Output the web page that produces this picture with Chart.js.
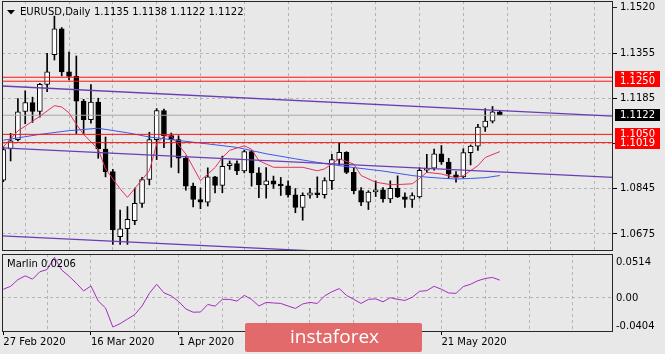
<!DOCTYPE html>
<html>
<head>
<meta charset="utf-8">
<script src="https://cdn.jsdelivr.net/npm/chart.js@4.4.1/dist/chart.umd.min.js"></script>
<style>
  html, body { margin: 0; padding: 0; background: #e8e8e8; }
  #wrap { position: relative; width: 665px; height: 354px; overflow: hidden; }
  #priceBox { position: absolute; left: 0; top: 0; width: 665px; height: 253px; }
  #oscBox { position: absolute; left: 0; top: 253px; width: 665px; height: 101px; }
</style>
</head>
<body>
<div id="wrap">
  <div id="priceBox"><canvas id="priceChart"></canvas></div>
  <div id="oscBox"><canvas id="oscChart"></canvas></div>
</div>
<script>
// bars (daily)
const dates = ['2020.02.27','2020.02.28','2020.03.02','2020.03.03','2020.03.04','2020.03.05','2020.03.06',
  '2020.03.09','2020.03.10','2020.03.11','2020.03.12','2020.03.13','2020.03.16','2020.03.17','2020.03.18',
  '2020.03.19','2020.03.20','2020.03.23','2020.03.24','2020.03.25','2020.03.26','2020.03.27','2020.03.30',
  '2020.03.31','2020.04.01','2020.04.02','2020.04.03','2020.04.06','2020.04.07','2020.04.08','2020.04.09',
  '2020.04.10','2020.04.13','2020.04.14','2020.04.15','2020.04.16','2020.04.17','2020.04.20','2020.04.21',
  '2020.04.22','2020.04.23','2020.04.24','2020.04.27','2020.04.28','2020.04.29','2020.04.30','2020.05.01',
  '2020.05.04','2020.05.05','2020.05.06','2020.05.07','2020.05.08','2020.05.11','2020.05.12','2020.05.13',
  '2020.05.14','2020.05.15','2020.05.18','2020.05.19','2020.05.20','2020.05.21','2020.05.22','2020.05.25',
  '2020.05.26','2020.05.27','2020.05.28','2020.05.29','2020.06.01','2020.06.02'];

const open = [1.0878,1.0995,1.1030,1.1136,1.1170,1.1136,1.1238,1.1350,1.1447,1.1285,1.1268,1.1175,1.1105,
  1.1172,1.0995,1.0910,1.0665,1.0695,1.0725,1.0790,1.0880,1.1030,1.1140,1.1045,1.1030,1.0960,1.0855,1.0805,
  1.0795,1.0890,1.0858,1.0932,1.0940,1.0912,1.0985,1.0905,1.0860,1.0875,1.0863,1.0856,1.0822,1.0775,1.0821,
  1.0830,1.0823,1.0876,1.0955,1.0982,1.0907,1.0838,1.0795,1.0833,1.0841,1.0807,1.0847,1.0815,1.0805,1.0815,
  1.0915,1.0923,1.0977,1.0946,1.0898,1.0890,1.0981,1.1006,1.1077,1.1100,1.1135];
const high = [1.1004,1.1054,1.1185,1.1214,1.1190,1.1242,1.1355,1.1495,1.1452,1.1360,1.1345,1.1182,1.1237,
  1.1186,1.1040,1.0918,1.0765,1.0778,1.0848,1.0888,1.1058,1.1147,1.1145,1.1055,1.1045,1.0968,1.0867,1.0848,
  1.0924,1.0892,1.0968,1.0950,1.0950,1.0990,1.0990,1.0925,1.0925,1.0893,1.0888,1.0875,1.0846,1.0830,1.0847,
  1.0890,1.0887,1.0975,1.1018,1.0985,1.0925,1.0850,1.0838,1.0875,1.0850,1.0875,1.0894,1.0830,1.0830,1.0925,
  1.0975,1.0995,1.1008,1.0960,1.0910,1.0996,1.1010,1.1088,1.1147,1.1155,1.1138];
const low = [1.0872,1.0950,1.1025,1.1090,1.1095,1.1115,1.1211,1.1330,1.1270,1.1255,1.1053,1.1053,1.1092,
  1.0960,1.0890,1.0636,1.0636,1.0636,1.0710,1.0775,1.0860,1.0955,1.1000,1.0926,1.0905,1.0840,1.0777,1.0770,
  1.0780,1.0830,1.0830,1.0918,1.0898,1.0905,1.0855,1.0812,1.0810,1.0847,1.0820,1.0814,1.0755,1.0727,1.0810,
  1.0812,1.0810,1.0843,1.0935,1.0902,1.0826,1.0782,1.0767,1.0816,1.0795,1.0793,1.0812,1.0775,1.0775,1.0810,
  1.0906,1.0915,1.0937,1.0885,1.0870,1.0886,1.0935,1.0990,1.1061,1.1093,1.1122];
const close = [1.0993,1.1026,1.1135,1.1170,1.1136,1.1238,1.1285,1.1447,1.1285,1.1268,1.1175,1.1105,1.1172,
  1.0995,1.0910,1.0690,1.0694,1.0730,1.0790,1.0880,1.1030,1.1140,1.1045,1.1030,1.0960,1.0855,1.0805,1.0795,
  1.0890,1.0858,1.0930,1.0940,1.0912,1.0985,1.0905,1.0860,1.0875,1.0863,1.0856,1.0822,1.0775,1.0821,1.0830,
  1.0823,1.0876,1.0955,1.0982,1.0907,1.0838,1.0795,1.0833,1.0841,1.0807,1.0847,1.0815,1.0805,1.0820,1.0915,
  1.0923,1.0977,1.0946,1.0900,1.0890,1.0981,1.1006,1.1077,1.1100,1.1135,1.1122];

// moving averages at these bars
const fastMaBar = [0,2,3,5,7,8,9,10,11,13,14,16,17,20,21,22,23,25,27,29,30,31,33,34,35,37,41,43,44,46,48,49,
  51,53,54,56,57,58,60,62,63,65,66,68];
const fastMa = [1.1003,1.1063,1.1081,1.1118,1.1158,1.1153,1.1131,1.1088,1.1050,1.0994,1.0920,1.0845,1.0813,
  1.0913,1.1013,1.1044,1.1044,1.0976,1.0876,1.0925,1.0963,1.0990,1.1007,1.0994,1.0951,1.0926,1.0926,1.0913,
  1.0920,1.0958,1.0938,1.0895,1.0870,1.0861,1.0861,1.0864,1.0884,1.0907,1.0901,1.0886,1.0895,1.0932,1.0963,1.0985];
const slowMaBar = [0,5,9,13,17,20,24,28,32,36,40,44,48,52,56,58,60,62,64,66,68];
const slowMa = [1.1028,1.1050,1.1064,1.1073,1.1056,1.1040,1.1027,1.1014,1.1001,1.0977,1.0958,1.0940,1.0925,
  1.0912,1.0895,1.0889,1.0885,1.0882,1.0884,1.0887,1.0895];

// channel lines: value at left edge and right edge of the window
const channelBar = [-0.18, 83.5];
const channelTop = [1.1232, 1.1119];
const channelMid = [1.0999, 1.0888];
const channelLow = [1.0668, 1.0557];

const levels = [1.1265, 1.1250, 1.1050, 1.1019];
const bidPrice = 1.1122;

const marlin = [0.0099,0.0134,0.0212,0.0257,0.0218,0.0305,0.0331,0.0474,0.0325,0.0253,0.0170,0.0079,0.0138,
  -0.0040,-0.0121,-0.0345,-0.0306,-0.0252,-0.0199,-0.0098,0.0051,0.0158,0.0057,0.0021,-0.0044,-0.0133,-0.0171,
  -0.0169,-0.0080,-0.0100,-0.0020,-0.0020,-0.0040,0.0027,-0.0020,-0.0098,-0.0056,-0.0062,-0.0068,-0.0098,-0.0127,
  -0.0074,-0.0056,-0.0068,0.0021,0.0069,0.0107,0.0027,-0.0020,-0.0068,-0.0020,-0.0014,-0.0048,0.0000,-0.0020,
  -0.0032,0.0004,0.0075,0.0083,0.0134,0.0099,0.0055,0.0051,0.0131,0.0158,0.0200,0.0226,0.0238,0.0206];

// axis ticks
const priceTicks = [1.0675, 1.0845, 1.1015, 1.1185, 1.1355];
const priceTopLabel = '1.1520';
const oscLabels = ['0.0514', '0.00', '-0.0404'];
const dateTickBars = [0, 12, 24, 36, 48, 60];
const months = ['Jan','Feb','Mar','Apr','May','Jun','Jul','Aug','Sep','Oct','Nov','Dec'];

const bg = '#e8e8e8';
const gridColor = '#b4b4b4';
const frameColor = '#262626';
const font = '"DejaVu Sans", sans-serif';
const xMin = -0.18, xMax = 83.5;
const gridBars = [0, 6, 12, 18, 24, 30, 36, 42, 48, 54, 60, 66, 72, 78];

Chart.defaults.font.family = font;
Chart.defaults.font.size = 10;
Chart.defaults.color = '#000';

function dateLabel(i) {
  var p = dates[i].split('.');
  return (+p[2]) + ' ' + months[+p[1] - 1] + ' ' + p[0];
}
function pts(xs, ys) {
  return xs.map(function (x, k) { return { x: x, y: ys[k] }; });
}
function hline(v) {
  return [{ x: channelBar[0], y: v }, { x: channelBar[1], y: v }];
}
function lineSet(data, color, order, width) {
  return { type: 'line', data: data, borderColor: color, borderWidth: width || 1, pointRadius: 0,
    tension: 0, fill: false, order: order };
}
function zeroPad(s) { s.paddingLeft = 0; s.paddingRight = 0; s.paddingTop = 0; s.paddingBottom = 0; }

// price pane
var wicks = dates.map(function (d, i) { return { x: i, y: [low[i], high[i]] }; });
var bodies = dates.map(function (d, i) { return { x: i, y: [open[i], close[i]] }; });
var bodyFill = dates.map(function (d, i) { return close[i] >= open[i] ? '#ffffff' : '#000000'; });

var priceSets = [
  lineSet(hline(bidPrice), '#a8a8a8', 9),
  lineSet(pts(channelBar, channelTop), '#6b3db3', 4, 1.3),
  lineSet(pts(channelBar, channelMid), '#6b3db3', 4, 1.3),
  lineSet(pts(channelBar, channelLow), '#6b3db3', 4, 1.3),
  lineSet(pts(slowMaBar, slowMa), '#3a58f0', 6),
  lineSet(pts(fastMaBar, fastMa), '#e2335a', 5),
  { type: 'bar', data: bodies, backgroundColor: bodyFill, borderColor: '#000', borderWidth: 1,
    borderSkipped: false, barThickness: 5, minBarLength: 1, grouped: false, order: 20 },
  { type: 'bar', data: wicks, backgroundColor: '#000', borderWidth: 0, barThickness: 1,
    grouped: false, order: 21 }
];
levels.forEach(function (v) { priceSets.push(lineSet(hline(v), '#ff1010', 1)); });

var priceDecor = {
  id: 'priceDecor',
  afterDraw: function (chart) {
    var ctx = chart.ctx, a = chart.chartArea, y = chart.scales.y;
    ctx.save();
    ctx.strokeStyle = frameColor;
    ctx.lineWidth = 1;
    ctx.strokeRect(a.left + 0.5, a.top + 0.5, a.right - a.left - 1, a.bottom - a.top - 1);

    ctx.fillStyle = '#000';
    ctx.beginPath();
    ctx.moveTo(7, 10); ctx.lineTo(15, 10); ctx.lineTo(11, 14.5); ctx.closePath(); ctx.fill();
    ctx.font = '10px ' + font;
    ctx.textBaseline = 'middle';
    ctx.textAlign = 'left';
    var n = dates.length - 1;
    ctx.fillText('EURUSD,Daily', 20, 12);
    ctx.fillText([open[n], high[n], low[n], close[n]].map(function (v) { return v.toFixed(4); }).join(' '), 94, 12);

    // top scale label
    ctx.beginPath(); ctx.moveTo(a.right, a.top + 6.5); ctx.lineTo(a.right + 4, a.top + 6.5); ctx.stroke();
    ctx.fillText(priceTopLabel, a.right + 7, a.top + 6.5);

    // price tags on the scale
    var tags = [[levels[0], '#ff0000'], [levels[1], '#ff0000'], [bidPrice, '#000000'],
      [levels[2], '#ff0000'], [levels[3], '#ff0000']];
    tags.forEach(function (t) {
      var py = Math.round(y.getPixelForValue(t[0]));
      ctx.fillStyle = t[1];
      ctx.fillRect(a.right + 2, py - 6, 45, 12);
      ctx.fillStyle = '#fff';
      ctx.fillText(t[0].toFixed(4), a.right + 7, py + 0.5);
    });
    ctx.restore();
  }
};

new Chart(document.getElementById('priceChart'), {
  type: 'bar',
  data: { datasets: priceSets },
  options: {
    responsive: true, maintainAspectRatio: false, animation: false, devicePixelRatio: 1, events: [],
    layout: { padding: { left: 2, top: 1, right: 0, bottom: 2 } },
    plugins: { legend: { display: false }, tooltip: { enabled: false } },
    scales: {
      x: {
        type: 'linear', min: xMin, max: xMax, offset: false,
        afterBuildTicks: function (s) { s.ticks = gridBars.map(function (v) { return { value: v }; }); },
        afterFit: function (s) { s.height = 0; zeroPad(s); },
        ticks: { display: false },
        grid: { color: function (c) { return c.tick && c.tick.value === 0 ? 'rgba(0,0,0,0)' : gridColor; }, drawTicks: false },
        border: { display: false, dash: [3, 3] }
      },
      y: {
        position: 'right', min: 1.0611, max: 1.1552,
        afterBuildTicks: function (s) { s.ticks = priceTicks.map(function (v) { return { value: v }; }); },
        afterFit: function (s) { s.width = 52; zeroPad(s); },
        ticks: { callback: function (v) { return v.toFixed(4); }, padding: 3, color: '#000' },
        grid: { color: gridColor, tickColor: '#000', tickLength: 4 },
        border: { display: false, dash: [3, 3] }
      }
    }
  },
  plugins: [priceDecor]
});

// Marlin pane
var oscDecor = {
  id: 'oscDecor',
  afterDraw: function (chart) {
    var ctx = chart.ctx, a = chart.chartArea, y = chart.scales.y;
    ctx.save();
    ctx.strokeStyle = frameColor;
    ctx.lineWidth = 1;
    ctx.strokeRect(a.left + 0.5, a.top + 0.5, a.right - a.left - 1, a.bottom - a.top - 1);
    ctx.fillStyle = '#000';
    ctx.font = '10px ' + font;
    ctx.textBaseline = 'middle';
    ctx.textAlign = 'left';
    ctx.fillText('Marlin ' + marlin[marlin.length - 1].toFixed(4), 7, a.top + 10);
    ctx.fillText(oscLabels[0], a.right + 3, a.top + 8.5);
    ctx.fillText(oscLabels[1], a.right + 3, y.getPixelForValue(0) + 1);
    ctx.fillText(oscLabels[2], a.right + 3, a.bottom - 6);

    // watermark
    ctx.fillStyle = '#e26a6a';
    ctx.beginPath();
    ctx.roundRect(245, 70, 177, 29, 2);
    ctx.fill();
    ctx.fillStyle = '#fff';
    ctx.font = '19px "Open Sans", sans-serif';
    ctx.fillText('instaforex', 290, 85);
    ctx.restore();
  }
};

new Chart(document.getElementById('oscChart'), {
  type: 'line',
  data: { datasets: [ lineSet(pts(dates.map(function (d, i) { return i; }), marlin), '#a62cc0', 1) ] },
  options: {
    responsive: true, maintainAspectRatio: false, animation: false, devicePixelRatio: 1, events: [],
    layout: { padding: { left: 2, top: 1, right: 0, bottom: 0 } },
    plugins: { legend: { display: false }, tooltip: { enabled: false } },
    scales: {
      x: {
        type: 'linear', min: xMin, max: xMax, offset: false,
        afterBuildTicks: function (s) { s.ticks = gridBars.map(function (v) { return { value: v }; }); },
        afterFit: function (s) { s.height = 22; zeroPad(s); },
        ticks: {
          autoSkip: false, maxRotation: 0, align: 'start', padding: 1, color: '#000',
          callback: function (v) { return dateTickBars.indexOf(v) >= 0 ? dateLabel(v) : ''; }
        },
        grid: {
          color: function (c) { return c.tick && c.tick.value === 0 ? 'rgba(0,0,0,0)' : gridColor; },
          tickColor: function (c) { return c.tick && dateTickBars.indexOf(c.tick.value) >= 0 ? '#000' : 'rgba(0,0,0,0)'; },
          tickLength: 3
        },
        border: { display: false, dash: [3, 3] }
      },
      y: {
        position: 'right', min: -0.0404, max: 0.0514,
        afterBuildTicks: function (s) { s.ticks = [{ value: 0 }]; },
        afterFit: function (s) { s.width = 52; zeroPad(s); },
        ticks: { display: false },
        grid: { color: gridColor, drawTicks: false },
        border: { display: false, dash: [3, 3] }
      }
    }
  },
  plugins: [oscDecor]
});
</script>
</body>
</html>
